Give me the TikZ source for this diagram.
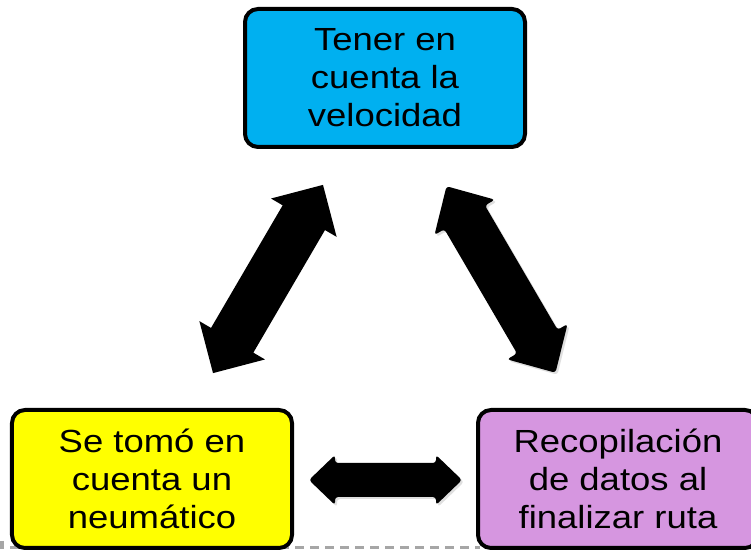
\documentclass[tikz,border=0pt]{standalone}
\usepackage{fontspec}
\setmainfont{Liberation Sans}[FakeStretch=1.14]
\usetikzlibrary{shadows}
\definecolor{boxcyan}{RGB}{0,176,240}
\definecolor{boxyellow}{RGB}{255,255,0}
\definecolor{boxpurple}{RGB}{214,150,224}
\definecolor{dashgray}{RGB}{166,166,166}
\tikzset{
  stepbox/.style={draw=black, line width=4bp, rounded corners=13bp,
    minimum width=280bp, minimum height=138bp, align=center,
    font=\fontsize{32bp}{38bp}\selectfont, inner sep=0pt},
  blockarrow/.style={fill=black},
  shadowarrow/.style={fill=black, rounded corners=3bp,
    drop shadow={opacity=0.25, shadow xshift=2bp, shadow yshift=-2bp}}
}
% #1 style, #2 x, #3 y, #4 angle, #5 length, #6 shaft width, #7 head width, #8 head length
\newcommand\dblarrow[8]{%
  \begin{scope}[shift={(#2,#3)}, rotate=#4]
    \path[#1] (-#5/2,0) -- (-#5/2+#8,#7/2) -- (-#5/2+#8,#6/2) -- (#5/2-#8,#6/2)
      -- (#5/2-#8,#7/2) -- (#5/2,0) -- (#5/2-#8,-#7/2) -- (#5/2-#8,-#6/2)
      -- (-#5/2+#8,-#6/2) -- (-#5/2+#8,-#7/2) -- cycle;
  \end{scope}}
\begin{document}
\begin{tikzpicture}[x=1bp, y=1bp]
  \useasboundingbox (0,0) rectangle (751,552);
  \fill[white] (0,0) rectangle (751,552);
  % dashed placeholder edge
  \draw[dashgray, line width=3bp, dash pattern=on 9bp off 6bp] (2,11) -- (2,4) -- (480,4);
  % boxes
  \node[stepbox, fill=boxcyan] (top) at (385,474) {Tener en\\cuenta la\\velocidad};
  \node[stepbox, fill=boxyellow] (left) at (152,73) {Se tomó en\\cuenta un\\neumático};
  \node[stepbox, fill=boxpurple] (right) at (618,73) {Recopilación\\de datos al\\finalizar ruta};
  % block arrows
  \dblarrow{blockarrow}{268}{273}{59.7}{218}{49}{76}{38}
  \dblarrow{shadowarrow}{501}{272.5}{-59.7}{216}{47}{70}{36}
  \dblarrow{shadowarrow}{385.5}{72}{0}{153}{34}{50}{26}
\end{tikzpicture}
\end{document}
